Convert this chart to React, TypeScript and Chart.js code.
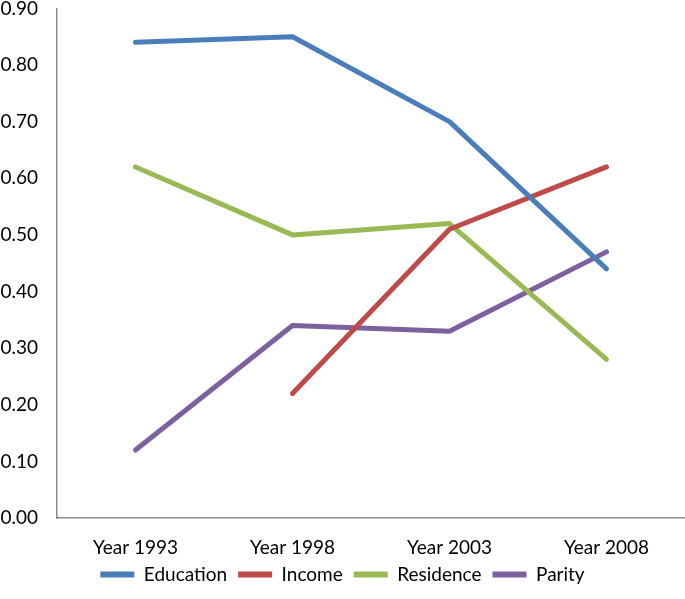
import React, { useEffect, useRef } from "react";
import { Chart, registerables } from "chart.js";

Chart.register(...registerables);

const categories = ["Year 1993", "Year 1998", "Year 2003", "Year 2008"];
const education = [0.84, 0.85, 0.7, 0.44];
const income = [null, 0.22, 0.51, 0.62];
const residence = [0.62, 0.5, 0.52, 0.28];
const parity = [0.12, 0.34, 0.33, 0.47];
const yTicks = [0, 0.1, 0.2, 0.3, 0.4, 0.5, 0.6, 0.7, 0.8, 0.9];

const FONT = "Lato";
const SHIFT = 22;

export default function App() {
  const ref = useRef<HTMLCanvasElement | null>(null);
  useEffect(() => {
    if (!ref.current) return;
    const mk = (label: string, data: (number | null)[], color: string) => ({
      label,
      data,
      borderColor: color,
      backgroundColor: color,
      borderWidth: 5,
      pointRadius: 0,
      borderCapStyle: "round" as const,
      borderJoinStyle: "round" as const,
      spanGaps: false,
    });
    const chart = new Chart(ref.current, {
      type: "line",
      data: {
        labels: categories,
        datasets: [
          mk("Education", education, "#4A7EBB"),
          mk("Income", income, "#BE4B48"),
          mk("Residence", residence, "#98B954"),
          mk("Parity", parity, "#7D60A0"),
        ],
      },
      options: {
        animation: false,
        responsive: false,
        maintainAspectRatio: false,
        layout: { padding: { left: 0, right: 0, top: 0, bottom: 5 } },
        plugins: {
          tooltip: { enabled: false },
          legend: {
            position: "bottom",
            labels: {
              color: "#000",
              font: { family: FONT, size: 19 },
              boxWidth: 34,
              boxHeight: 6,
              padding: 11,
              useBorderRadius: true,
              borderRadius: 3,
              generateLabels: (c: any) =>
                c.data.datasets.map((d: any, i: number) => ({
                  text: d.label,
                  fillStyle: d.borderColor,
                  strokeStyle: d.borderColor,
                  lineWidth: 0,
                  hidden: false,
                  datasetIndex: i,
                  fontColor: "#000",
                })),
            },
          },
        },
        scales: {
          x: {
            offset: true,
            grid: { display: false, drawTicks: false, offset: true },
            border: { display: true, color: "#8C8C8C", width: 1.5 },
            ticks: {
              color: "#000",
              font: { family: FONT, size: 19 },
              padding: 18,
              maxRotation: 0,
            },
            afterFit: (s: any) => {
              s.height = 36;
            },
          },
          y: {
            min: 0,
            max: 0.9,
            afterBuildTicks: (s: any) => {
              s.ticks = yTicks.map((v) => ({ value: v }));
            },
            grid: { display: false, drawTicks: false },
            border: { display: true, color: "#8C8C8C", width: 1.5 },
            ticks: {
              color: "#000",
              font: { family: FONT, size: 19 },
              padding: 19,
              callback: (v: any) => Number(v).toFixed(2),
            },
            afterFit: (s: any) => {
              s.width = 57;
            },
          },
        },
      },
    });
    return () => chart.destroy();
  }, []);
  return (
    <div style={{ position: "absolute", left: 0, top: 0, width: 685, height: 599, overflow: "hidden", background: "#fff" }}>
      <canvas ref={ref} width={685} height={599 + SHIFT} style={{ position: "absolute", left: 0, top: -SHIFT }} />
    </div>
  );
}
